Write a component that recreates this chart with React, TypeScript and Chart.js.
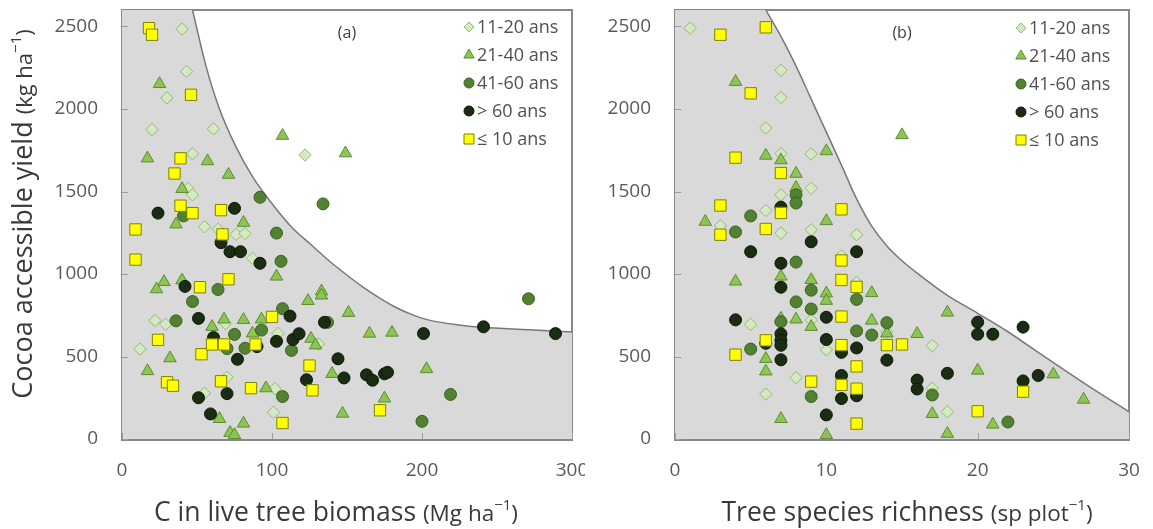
import React, { useEffect, useRef } from "react";
import { Chart, registerables } from "chart.js";

Chart.register(...registerables);

// ---------- categories / ticks ----------
const ageLabels = ["11-20 ans", "21-40 ans", "41-60 ans", "> 60 ans", "\u2264 10 ans"];
const yTicks = [0, 500, 1000, 1500, 2000, 2500];
const xTicksA = [0, 100, 200, 300];
const xTicksB = [0, 10, 20, 30];

// ---------- panel (a): C in live tree biomass vs yield ----------
const a11_20: number[][] = [[40,2485],[43,2228],[30,2068],[20,1875],[61,1880],[47,1728],[122,1721],[44,1518],[47,1480],[55,1286],[64,1272],[76,1240],[82,1245],[87,1095],[22,718],[29,695],[12,545],[69,700],[104,640],[70,375],[55,278],[102,305],[101,162],[131,575]];
const a21_40: number[][] = [[25,2152],[17,1701],[57,1684],[71,1602],[107,1838],[149,1732],[40,1516],[36,1301],[81,1311],[28,952],[23,908],[40,962],[103,985],[124,837],[133,895],[133,870],[151,765],[60,680],[68,725],[81,722],[93,725],[87,640],[126,608],[129,568],[32,490],[17,412],[140,395],[165,639],[180,645],[203,424],[96,308],[175,246],[147,154],[65,122],[81,94],[72,38],[75,25]];
const a41_60: number[][] = [[92,1465],[134,1425],[41,1352],[103,1248],[106,1077],[64,906],[47,833],[36,716],[107,790],[75,634],[70,548],[82,550],[93,660],[113,537],[137,707],[271,850],[107,257],[219,270],[200,107]];
const aOver60: number[][] = [[24,1369],[75,1398],[66,1190],[72,1135],[79,1135],[92,1065],[42,925],[51,731],[61,615],[103,592],[112,745],[114,603],[118,638],[135,707],[77,483],[144,486],[148,370],[163,389],[167,356],[175,395],[177,404],[123,359],[70,275],[51,250],[59,152],[201,639],[241,680],[289,639],[90,560]];
const aUnder10: number[][] = [[18,2490],[20,2450],[46,2086],[39,1701],[35,1609],[39,1414],[47,1369],[66,1387],[67,1240],[9,1270],[9,1087],[71,968],[52,920],[100,740],[24,601],[53,514],[60,573],[68,573],[89,573],[30,344],[34,323],[66,350],[86,308],[125,445],[127,295],[172,174],[107,97]];
const aPlateau: number[][] = [[0,2600],[47,2600],[48.5,2545]];
const aBoundary: number[][] = [[47,2600],[56,2260],[65,2000],[76,1770],[87,1590],[98,1450],[113,1285],[127,1170],[138,1080],[149,1000],[160,925],[171,858],[182,800],[193,755],[204,722],[226,690],[240,677],[271,662],[300,648]];

// ---------- panel (b): tree species richness vs yield ----------
const b11_20: number[][] = [[1,2490],[7,2235],[7,2070],[6,1885],[7,1730],[9,1728],[9,1520],[7,1480],[6,1385],[3,1292],[7,1248],[9,1268],[12,1238],[5,695],[9,720],[10,540],[8,372],[6,272],[17,566],[17,308],[18,165],[11,1110],[12,950],[14,650]];
const b21_40: number[][] = [[4,2165],[6,1718],[7,1690],[8,1608],[10,1745],[15,1842],[8,1523],[2,1317],[10,1321],[4,955],[7,985],[9,964],[10,883],[10,838],[13,885],[8,725],[9,680],[7,730],[13,718],[14,640],[16,637],[18,767],[6,486],[6,410],[7,122],[10,25],[20,415],[25,392],[27,239],[17,152],[21,88],[18,32]];
const b41_60: number[][] = [[4,1255],[5,1352],[8,1480],[8,1430],[8,1072],[8,831],[9,788],[9,902],[12,846],[12,655],[13,630],[14,705],[7,711],[5,545],[9,257],[17,267],[22,103]];
const bOver60: number[][] = [[7,1405],[9,1195],[12,1135],[5,1135],[7,1065],[7,920],[4,722],[10,738],[7,637],[7,598],[7,568],[7,480],[10,603],[11,525],[12,552],[14,478],[11,385],[11,245],[12,262],[10,146],[16,357],[16,303],[18,398],[20,708],[20,635],[21,635],[23,678],[23,352],[24,385],[6,580]];
const bUnder10: number[][] = [[3,2450],[6,2495],[5,2095],[4,1705],[7,1612],[3,1415],[3,1238],[6,1273],[7,1370],[11,1392],[11,1082],[11,964],[12,922],[11,742],[11,569],[6,598],[4,511],[14,569],[15,573],[12,440],[9,348],[11,328],[12,305],[12,93],[20,168],[23,287]];
const bPlateau: number[][] = [[0,2600],[6,2600],[6.2,2568]];
const bBoundary: number[][] = [[6,2600],[7,2440],[8,2260],[9,2060],[10,1860],[11,1660],[12,1455],[13,1290],[14,1170],[15,1080],[16,1005],[18,870],[20,762],[22,650],[24,525],[27,340],[30,165]];

// ---------- styles ----------
const FONT = '"Open Sans", "Noto Sans", sans-serif';
const FILL = "#d9d9d9";
const FRAME = "#888888";
const markerStyles = [
  { shape: "rectRot", r: 6.2, bg: "#d3e8c3", border: "#93bb72" },
  { shape: "triangle", r: 7.2, bg: "#8dc454", border: "#5b8e2f" },
  { shape: "circle", r: 6, bg: "#528131", border: "#3b6221" },
  { shape: "circle", r: 6, bg: "#1a2c12", border: "#0c1808" },
  { shape: "rect", r: 8, bg: "#ffff00", border: "#808000" },
];

type Seg = { t: string; s: number; sup?: boolean };

function drawRich(ctx: CanvasRenderingContext2D, segs: Seg[], x: number, y: number, rotate: boolean) {
  ctx.save();
  ctx.translate(x, y);
  if (rotate) ctx.rotate(-Math.PI / 2);
  ctx.fillStyle = "#3a3a3a";
  ctx.textBaseline = "alphabetic";
  ctx.textAlign = "left";
  const widths = segs.map((sg) => {
    ctx.font = `${sg.s}px ${FONT}`;
    return ctx.measureText(sg.t).width;
  });
  const total = widths.reduce((p, q) => p + q, 0);
  let cx = -total / 2;
  segs.forEach((sg, i) => {
    ctx.font = `${sg.s}px ${FONT}`;
    ctx.fillText(sg.t, cx, sg.sup ? -11 : 0);
    cx += widths[i];
  });
  ctx.restore();
}

function drawMarker(ctx: CanvasRenderingContext2D, i: number, x: number, y: number) {
  const st = markerStyles[i];
  ctx.save();
  ctx.fillStyle = st.bg;
  ctx.strokeStyle = st.border;
  ctx.lineWidth = 1;
  ctx.beginPath();
  if (st.shape === "rectRot") {
    const r = 5;
    ctx.moveTo(x - r, y); ctx.lineTo(x, y - r); ctx.lineTo(x + r, y); ctx.lineTo(x, y + r); ctx.closePath();
  } else if (st.shape === "triangle") {
    const r = 6;
    ctx.moveTo(x, y - r);
    ctx.lineTo(x + r * 0.866, y + r * 0.5);
    ctx.lineTo(x - r * 0.866, y + r * 0.5);
    ctx.closePath();
  } else if (st.shape === "circle") {
    ctx.arc(x, y, 5, 0, Math.PI * 2);
  } else {
    ctx.rect(x - 5, y - 5, 10, 10);
  }
  ctx.fill();
  ctx.stroke();
  ctx.restore();
}

interface PanelOpts {
  tag: string;
  xTicks: number[];
  xTitle: Seg[];
  xTitleX: number;
  yTitle?: Seg[];
  legendDx: number;
  legendDy: number;
}

function decorPlugin(o: PanelOpts) {
  return {
    id: "decor" + o.tag.replace(/[()]/g, ""),
    afterDraw(chart: any) {
      const { ctx, chartArea: ca, scales } = chart;
      ctx.save();
      // small inward ticks
      ctx.fillStyle = "#9c9c9c";
      yTicks.forEach((v) => {
        const y = Math.round(scales.y.getPixelForValue(v));
        ctx.fillRect(ca.left, y, 6, 1);
      });
      o.xTicks.forEach((v) => {
        const x = Math.round(scales.x.getPixelForValue(v));
        ctx.fillRect(x, ca.bottom - 6, 1, 6);
      });
      // panel tag
      ctx.fillStyle = "#404040";
      ctx.font = `16px ${FONT}`;
      ctx.textAlign = "center";
      ctx.textBaseline = "middle";
      ctx.fillText(o.tag, (ca.left + ca.right) / 2, ca.top + 23);
      // legend
      ageLabels.forEach((lab, i) => {
        const mx = ca.right - o.legendDx;
        const my = ca.top + o.legendDy + i * 28;
        drawMarker(ctx, i, mx, my);
        ctx.fillStyle = "#505050";
        ctx.font = `18px ${FONT}`;
        ctx.textAlign = "left";
        ctx.textBaseline = "middle";
        ctx.fillText(lab, mx + 8, my + 1);
      });
      ctx.restore();
      // axis titles
      drawRich(ctx, o.xTitle, o.xTitleX, 521, false);
      if (o.yTitle) drawRich(ctx, o.yTitle, 32, 214, true);
    },
  };
}

const toXY = (p: number[]) => ({ x: p[0], y: p[1] });

function buildConfig(series: number[][][], plateau: number[][], boundary: number[][], xMax: number, xTicks: number[], yAxisWidth: number, rightPad: number, plugin: any) {
  const datasets: any[] = [
    { type: "line", data: plateau.map(toXY), fill: "origin", backgroundColor: FILL, borderWidth: 0, pointRadius: 0, order: 30 },
    { type: "line", data: boundary.map(toXY), fill: "origin", backgroundColor: FILL, borderColor: "#787878", borderWidth: 1.5, pointRadius: 0, cubicInterpolationMode: "monotone", order: 29 },
    ...series.map((s, i) => ({
      type: "scatter",
      label: ageLabels[i],
      data: s.map(toXY),
      pointStyle: markerStyles[i].shape,
      pointRadius: markerStyles[i].r,
      backgroundColor: markerStyles[i].bg,
      borderColor: markerStyles[i].border,
      borderWidth: 1,
      order: 10 - i,
    })),
  ];
  const tickFont = { size: 19, family: FONT };
  const frameAxis = (pos: string, w: number) => ({
    type: "linear" as const,
    position: pos,
    display: true,
    z: 5,
    ticks: { display: false },
    grid: { display: false, drawTicks: false },
    border: { display: true, color: FRAME, width: w },
    afterFit: (sc: any) => {
      if (pos === "top") sc.height = 0; else sc.width = 0;
      sc.paddingLeft = 0; sc.paddingRight = 0; sc.paddingTop = 0; sc.paddingBottom = 0;
    },
  });
  return {
    type: "scatter" as const,
    data: { datasets },
    options: {
      responsive: false,
      animation: false as const,
      layout: { padding: { top: 10, right: rightPad, left: 0, bottom: 0 } },
      plugins: { legend: { display: false }, tooltip: { enabled: false } },
      scales: {
        x: {
          type: "linear" as const,
          position: "bottom" as const,
          min: 0,
          max: xMax,
          z: 5,
          afterBuildTicks: (sc: any) => { sc.ticks = xTicks.map((v) => ({ value: v })); },
          ticks: { font: tickFont, color: "#5a5a5a", padding: 20, callback: (v: any) => String(v) },
          grid: { display: false, drawTicks: false },
          border: { display: true, color: FRAME, width: 3 },
          afterFit: (sc: any) => { sc.height = 90; sc.paddingLeft = 0; sc.paddingRight = 0; },
        },
        y: {
          type: "linear" as const,
          position: "left" as const,
          min: 0,
          max: 2600,
          z: 5,
          afterBuildTicks: (sc: any) => { sc.ticks = yTicks.map((v) => ({ value: v })); },
          ticks: { font: tickFont, color: "#5a5a5a", padding: 24, callback: (v: any) => String(v) },
          grid: { display: false, drawTicks: false },
          border: { display: true, color: FRAME, width: 3 },
          afterFit: (sc: any) => { sc.width = yAxisWidth; sc.paddingTop = 0; sc.paddingBottom = 0; },
        },
        xTop: frameAxis("top", 2),
        yRight: frameAxis("right", 2),
      },
    },
    plugins: [plugin],
  };
}

export default function App() {
  const refA = useRef<HTMLCanvasElement>(null);
  const refB = useRef<HTMLCanvasElement>(null);

  useEffect(() => {
    Chart.defaults.font.family = FONT;
    const pa = decorPlugin({
      tag: "(a)",
      xTicks: xTicksA,
      xTitle: [{ t: "C in live tree biomass ", s: 26.5 }, { t: "(Mg ha", s: 22.5 }, { t: "\u22121", s: 15, sup: true }, { t: ")", s: 22.5 }],
      xTitleX: 336,
      yTitle: [{ t: "Cocoa accessible yield ", s: 27 }, { t: "(kg ha", s: 22 }, { t: "\u22121", s: 15, sup: true }, { t: ")", s: 22 }],
      legendDx: 103,
      legendDy: 17,
    });
    const pb = decorPlugin({
      tag: "(b)",
      xTicks: xTicksB,
      xTitle: [{ t: "Tree species richness ", s: 26.5 }, { t: "(sp plot", s: 22.5 }, { t: "\u22121", s: 15, sup: true }, { t: ")", s: 22.5 }],
      xTitleX: 322,
      legendDx: 108,
      legendDy: 18,
    });
    const ca = new Chart(refA.current as HTMLCanvasElement, buildConfig([a11_20, a21_40, a41_60, aOver60, aUnder10], aPlateau, aBoundary, 300, xTicksA, 122, 13, pa) as any);
    const cb = new Chart(refB.current as HTMLCanvasElement, buildConfig([b11_20, b21_40, b41_60, bOver60, bUnder10], bPlateau, bBoundary, 30, xTicksB, 90, 24, pb) as any);
    return () => {
      ca.destroy();
      cb.destroy();
    };
  }, []);

  return (
    <div style={{ position: "absolute", left: 0, top: 0, width: 1153, height: 529, background: "#fff", overflow: "hidden" }}>
      <canvas ref={refA} width={585} height={529} style={{ position: "absolute", left: 0, top: 0, width: 585, height: 529 }} />
      <canvas ref={refB} width={568} height={529} style={{ position: "absolute", left: 585, top: 0, width: 568, height: 529 }} />
    </div>
  );
}
